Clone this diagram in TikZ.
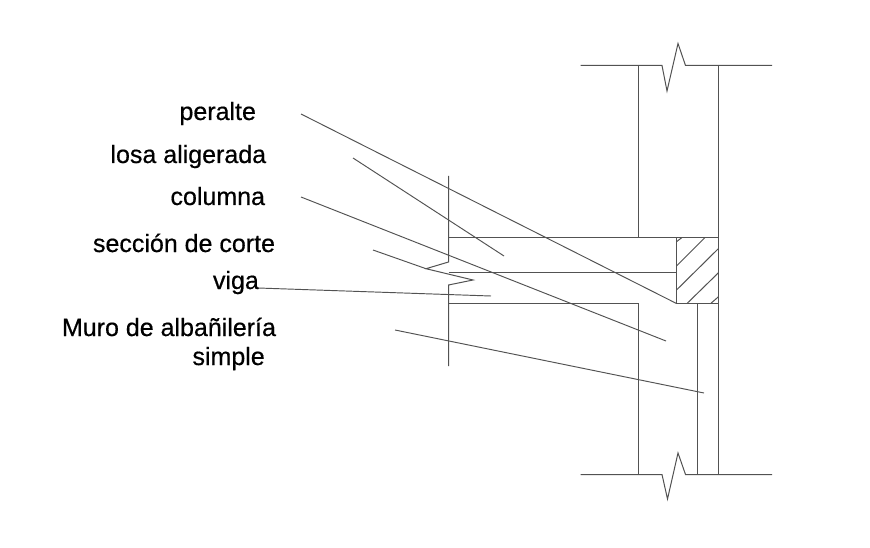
\documentclass[tikz,border=0pt]{standalone}
\usepackage{fontspec}
\setmainfont[FakeBold=0.5]{Liberation Sans}
\tikzset{
  lbl/.style={anchor=base west,inner sep=0pt,outer sep=0pt,text=black,font=\fontsize{25}{25}\selectfont},
  ln/.style={draw=black!68,line width=1pt,line join=miter},
  leader/.style={draw=black!68,line width=0.95pt}
}
\begin{document}
\begin{tikzpicture}[x=1pt,y=-1pt]
\useasboundingbox[fill=white] (0,0) rectangle (870,548);
% labels
\node[lbl] (peralte) at (179.5,120) {peralte};
\node[lbl] (losa) at (110.5,163) {losa aligerada};
\node[lbl] (columna) at (170.5,205) {columna};
\node[lbl] (seccion) at (93,252) {sección de corte};
\node[lbl] (viga) at (213,289) {viga};
\node[lbl] (muro) at (62,336) {Muro de albañilería};
\node[lbl] (simple) at (192.5,365) {simple};
% leader ends
\coordinate (p0) at (301,114); \coordinate (p1) at (676.5,303.5);
\coordinate (l0) at (353,158); \coordinate (l1) at (504,256);
\coordinate (c0) at (301,197); \coordinate (c1) at (666,341);
\coordinate (s0) at (373,250); \coordinate (s1) at (426,268.7);
\coordinate (v0) at (258,288); \coordinate (v1) at (491,296);
\coordinate (m0) at (395,330); \coordinate (m1) at (704,393);
\draw[leader] (p0) -- (p1);
\draw[leader] (l0) -- (l1);
\draw[leader] (c0) -- (c1);
\draw[leader] (s0) -- (s1);
\draw[leader] (v0) -- (v1);
\draw[leader] (m0) -- (m1);
% top and bottom break lines
\draw[ln] (580.5,65.5) -- (662,65.5) -- (667,91) -- (678,43.5) -- (685.5,65.5) -- (772,65.5);
\draw[ln] (580.5,474.5) -- (662,474.5) -- (667.5,499) -- (678,453) -- (685.5,474.5) -- (772,474.5);
% walls
\draw[ln] (638.5,65.5) -- (638.5,237.5);
\draw[ln] (718.5,65.5) -- (718.5,474.5);
\draw[ln] (697.5,303.5) -- (697.5,474.5);
% slab and beam
\draw[ln] (448.5,237.5) -- (718.5,237.5);
\draw[ln] (448.5,272.5) -- (676.5,272.5);
\draw[ln] (448.5,303.5) -- (638.5,303.5) -- (638.5,474.5);
\draw[ln] (676.5,237.5) -- (676.5,303.5) -- (718.5,303.5);
% section cut
\draw[ln] (448.5,176) -- (448.5,262) -- (426,268.7) -- (473,280) -- (448.5,285) -- (448.5,366);
% hatch
\draw[ln] (676.5,241.7) -- (682,237.5);
\draw[ln] (676.5,266) -- (705,237.5);
\draw[ln] (676.5,290) -- (718.5,248.5);
\draw[ln] (687,303.5) -- (718.5,272.7);
\draw[ln] (710.7,303.5) -- (718.5,296.7);
\end{tikzpicture}
\end{document}
